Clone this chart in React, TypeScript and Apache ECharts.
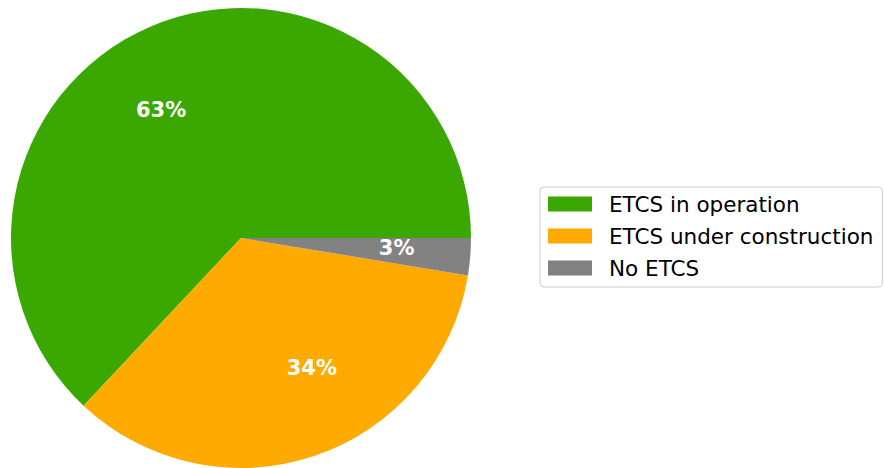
import React, { useEffect, useRef } from "react";
import * as echarts from "echarts";

const categories = ["ETCS in operation", "ETCS under construction", "No ETCS"];
const values = [63.0, 34.4, 2.6];
const colors = ["#3aa800", "#ffaa00", "#828282"];
const labelOffsets: [number, number][] = [
  [-33, -20],
  [33, 18],
  [38, 0],
];

export default function App() {
  const ref = useRef<HTMLDivElement>(null);
  useEffect(() => {
    if (!ref.current) return;
    const chart = echarts.init(ref.current, null, { renderer: "svg" });
    chart.setOption({
      animation: false,
      backgroundColor: "#ffffff",
      legend: {
        orient: "vertical",
        left: 540,
        top: 187,
        padding: [6, 9, 8, 8],
        itemWidth: 44,
        itemHeight: 15,
        itemGap: 10,
        icon: "rect",
        borderColor: "#cccccc",
        borderWidth: 1,
        borderRadius: 4,
        selectedMode: false,
        textStyle: {
          fontFamily: "DejaVu Sans",
          fontSize: 21.5,
          color: "#000000",
          lineHeight: 21.5,
          padding: [0, 0, 0, 12],
        },
        data: categories,
      },
      series: [
        {
          type: "pie",
          center: [241, 238],
          radius: 230,
          startAngle: 0,
          clockwise: false,
          silent: true,
          percentPrecision: 0,
          label: {
            show: true,
            position: "inside",
            formatter: "{d}%",
            color: "#ffffff",
            fontFamily: "DejaVu Sans",
            fontWeight: "bold",
            fontSize: 21,
          },
          labelLine: { show: false },
          data: categories.map((name, i) => ({
            name,
            value: values[i],
            itemStyle: { color: colors[i] },
            label: { offset: labelOffsets[i] },
          })),
        },
      ],
    });
    return () => chart.dispose();
  }, []);
  return (
    <div
      ref={ref}
      style={{ position: "fixed", left: 0, top: 0, width: 884, height: 468 }}
    />
  );
}
